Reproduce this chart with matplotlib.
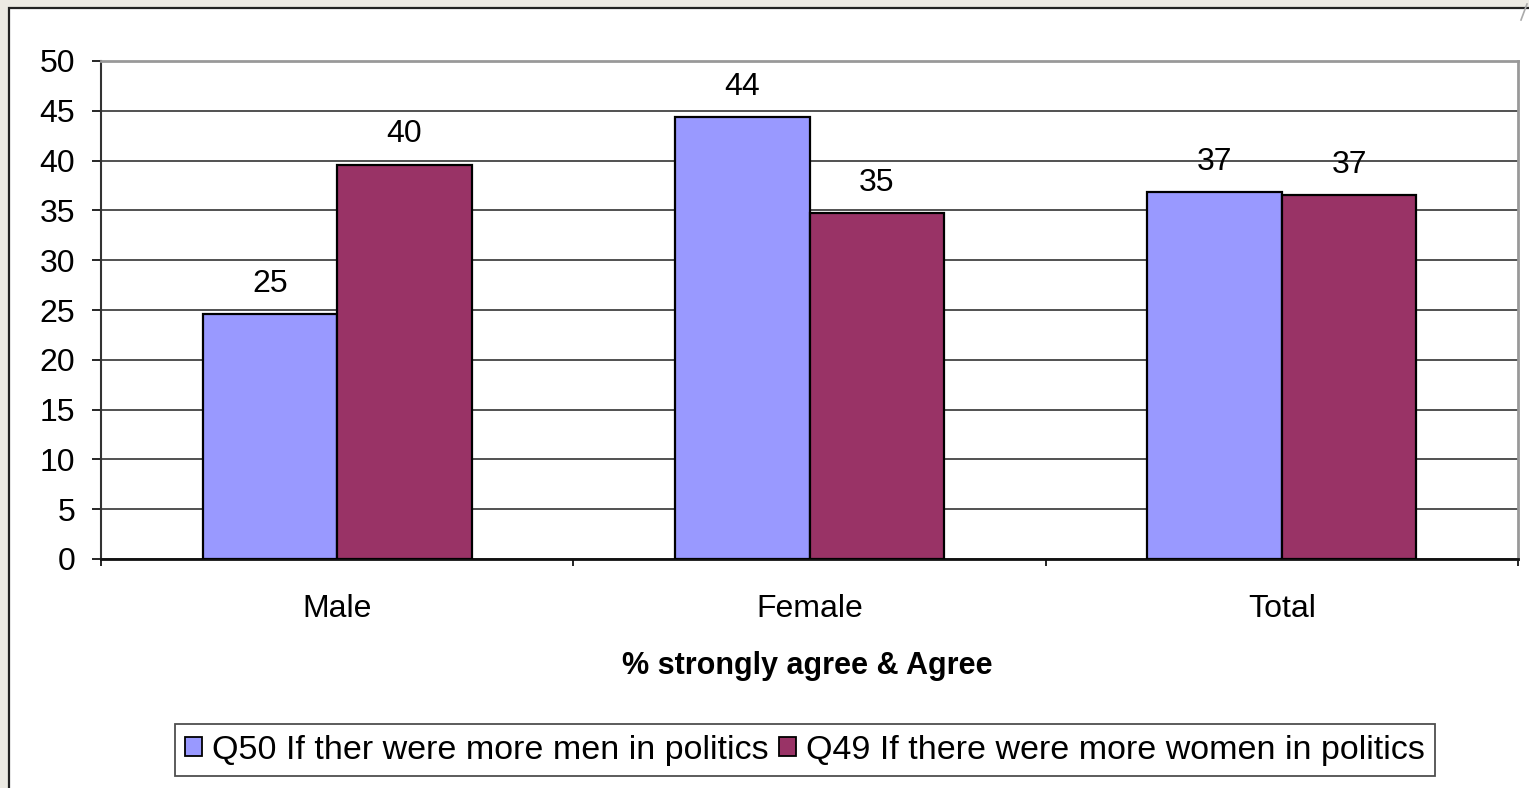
import matplotlib
matplotlib.use("Agg")
import matplotlib.pyplot as plt
from matplotlib.patches import Rectangle, Patch
from matplotlib.lines import Line2D
import numpy as np

plt.rcParams['font.family'] = ['Liberation Sans', 'DejaVu Sans']

categories = ["Male", "Female", "Total"]
series_names = ["Q50 If ther were more men in politics",
                "Q49 If there were more women in politics"]
q50_values = [24.6, 44.4, 36.8]
q49_values = [39.6, 34.7, 36.55]
y_ticks = [0, 5, 10, 15, 20, 25, 30, 35, 40, 45, 50]
x_title = "% strongly agree & Agree"

colors = ["#9999FF", "#993366"]

W, H = 1529, 788
fig = plt.figure(figsize=(W / 100, H / 100), dpi=100)
fig.patch.set_facecolor("#ECEAE3")

# white chart sheet with dark frame on the visible edges
sheet = Rectangle((8.5 / W, -0.01), 1.02, 1 - 7.5 / H + 0.01, transform=fig.transFigure,
                  facecolor="white", edgecolor="#222222", linewidth=1.6, zorder=-5)
fig.patches.append(sheet)
fig.add_artist(Line2D([1521 / W, 1527 / W], [1 - 20 / H, 1 - 4 / H],
                      transform=fig.transFigure, color="#AAAAAA", lw=1.2, zorder=-4))

ax = fig.add_axes([101 / W, 1 - 559 / H, (1518 - 101) / W, (559 - 61) / H])
ax.set_zorder(1)
ax.set_facecolor("white")

x = np.arange(len(categories))
bw = 0.285
bars1 = ax.bar(x - bw / 2, q50_values, bw, color=colors[0], edgecolor="black",
               linewidth=1.6, zorder=3)
bars2 = ax.bar(x + bw / 2, q49_values, bw, color=colors[1], edgecolor="black",
               linewidth=1.6, zorder=3)

for bars, vals in ((bars1, q50_values), (bars2, q49_values)):
    for b, v in zip(bars, vals):
        ax.annotate(f"{v:.0f}", (b.get_x() + b.get_width() / 2, v),
                    xytext=(0, 16), textcoords="offset points",
                    ha="center", va="baseline", fontsize=23, zorder=5)

ax.set_xlim(-0.5, 2.5)
ax.set_ylim(0, 50)
ax.set_yticks(y_ticks)
ax.tick_params(axis="y", labelsize=23, length=6.5, width=1.2, pad=12, colors="black")
ax.yaxis.grid(True, color="#222222", linewidth=1.1, zorder=0)
ax.set_axisbelow(True)

ax.set_xticks([-0.5, 0.5, 1.5, 2.5])
ax.set_xticklabels([])
ax.set_xticks(x, minor=True)
ax.set_xticklabels(categories, minor=True)
ax.tick_params(axis="x", which="major", length=5, width=1.2, direction="out")
ax.tick_params(axis="x", which="minor", length=0, labelsize=23, pad=25)

ax.spines["left"].set_color("#333333")
ax.spines["left"].set_linewidth(1.5)
ax.spines["bottom"].set_color("#111111")
ax.spines["bottom"].set_linewidth(2)
for s in ("top", "right"):
    ax.spines[s].set_color("#999999")
    ax.spines[s].set_linewidth(2)
ax.spines["top"].set_zorder(4)

fig.text(807 / W, 1 - 666 / H, x_title, ha="center", va="center",
         fontsize=22, fontweight="bold")

handles = [Patch(facecolor=c, edgecolor="black", linewidth=1.3) for c in colors]
leg = fig.legend(handles, series_names, loc="center",
                 bbox_to_anchor=(805 / W, 1 - 750 / H), ncol=2, fontsize=24.5,
                 frameon=True, fancybox=False, edgecolor="#222222",
                 handlelength=0.5, handleheight=0.5, handletextpad=0.3,
                 columnspacing=0.3, borderpad=0.3, borderaxespad=0)
leg.get_frame().set_linewidth(1.3)

fig.savefig("out.png", dpi=100, facecolor=fig.get_facecolor())
